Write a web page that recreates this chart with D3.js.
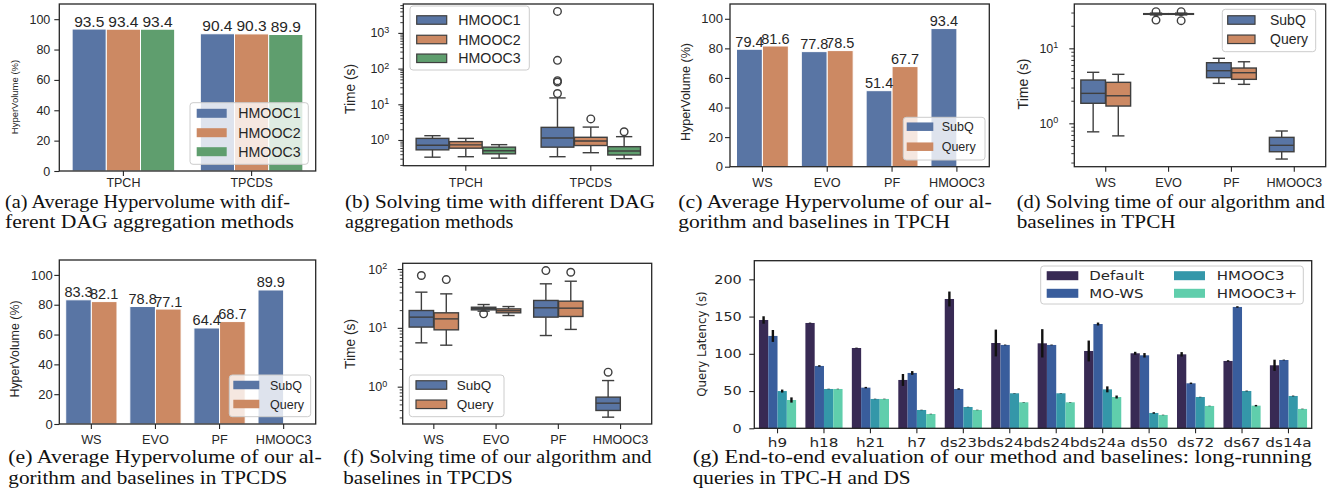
<!DOCTYPE html>
<html><head><meta charset="utf-8">
<script src="https://cdn.jsdelivr.net/npm/d3@7"></script>
<style>body{margin:0;background:#fff}svg{display:block}</style>
</head><body>
<svg id="fig" width="1344" height="495"></svg>
<script>
// ---------------- DATA ----------------
// (a) Average hypervolume, DAG aggregation methods
const aggCategories = ["TPCH", "TPCDS"];
const aggMethods = ["HMOOC1", "HMOOC2", "HMOOC3"];
const aggHV_HMOOC1 = [93.5, 90.4];
const aggHV_HMOOC2 = [93.4, 90.3];
const aggHV_HMOOC3 = [93.4, 89.9];

// (b) Solving time box stats [whiskerLow, q1, median, q3, whiskerHigh]
const aggTime_HMOOC1 = [[0.33, 0.53, 0.71, 1.11, 1.32], [0.34, 0.63, 1.14, 2.26, 15.1]];
const aggTime_HMOOC1_out = [[], [20, 42, 46, 170, 4000]];
const aggTime_HMOOC2 = [[0.34, 0.59, 0.73, 0.90, 1.11], [0.44, 0.70, 0.94, 1.19, 2.3]];
const aggTime_HMOOC2_out = [[], [3.9]];
const aggTime_HMOOC3 = [[0.31, 0.41, 0.50, 0.63, 0.74], [0.30, 0.38, 0.49, 0.65, 1.24]];
const aggTime_HMOOC3_out = [[], [1.7]];

// (c)/(e) hypervolume of algorithms
const algCategories = ["WS", "EVO", "PF", "HMOOC3"];
const algHues = ["SubQ", "Query"];
const tpchHV_SubQ = [79.4, 77.8, 51.4, 93.4];
const tpchHV_Query = [81.6, 78.5, 67.7, null];
const tpcdsHV_SubQ = [83.3, 78.8, 64.4, 89.9];
const tpcdsHV_Query = [82.1, 77.1, 68.7, null];

// (d) TPCH solving time box stats
const tpchTime_SubQ = [[0.77, 1.85, 2.51, 3.78, 4.79], [27.9, 28.4, 28.7, 29.0, 29.5], [3.41, 4.06, 5.03, 6.43, 7.36], [0.334, 0.418, 0.509, 0.65, 0.79]];
const tpchTime_SubQ_out = [[], [23.8, 30.8], [], []];
const tpchTime_Query = [[0.68, 1.70, 2.33, 3.52, 4.5], [27.9, 28.4, 28.7, 29.0, 29.5], [3.31, 3.86, 4.73, 5.46, 6.62], null];
const tpchTime_Query_out = [[], [23.4, 30.8], [], []];

// (f) TPCDS solving time box stats
const tpcdsTime_SubQ = [[5.56, 10.3, 15.2, 19.7, 40.4], [19.2, 20.2, 21.3, 22.4, 24.9], [7.4, 15.2, 21.9, 29.2, 56], [0.303, 0.394, 0.524, 0.664, 1.27]];
const tpcdsTime_SubQ_out = [[77.6], [17.3], [94], [1.76]];
const tpcdsTime_Query = [[5.07, 9.25, 14.2, 18.0, 37.8], [16.2, 18.0, 19.5, 21.0, 23.0], [9.4, 15.6, 21.6, 28.4, 62], null];
const tpcdsTime_Query_out = [[66], [], [88], []];

// (g) end-to-end latency
const e2eQueries = ["h9", "h18", "h21", "h7", "ds23b", "ds24b", "ds24b", "ds24a", "ds50", "ds72", "ds67", "ds14a"];
const e2eMethods = ["Default", "MO-WS", "HMOOC3", "HMOOC3+"];
const lat_Default = [145.4, 141.4, 107.8, 64.9, 173.6, 114.5, 114.1, 103.8, 100.7, 99.3, 90.4, 84.6];
const lat_Default_err = [5, 0.5, 0.5, 8, 10, 18, 19, 14, 2, 3, 1, 7.5];
const lat_MOWS = [124, 83.7, 54.6, 74.3, 52.8, 111.9, 111.9, 140, 98, 60.4, 162.9, 91.7];
const lat_MOWS_err = [8, 1, 1, 2.5, 1, 0.5, 0.5, 2, 3, 1, 1, 0.5];
const lat_HMOOC3 = [50, 52.8, 39.4, 24.6, 28.6, 47, 47, 52.3, 20.6, 42, 50.1, 43.4];
const lat_HMOOC3_err = [2, 0.3, 0.3, 0.3, 0.3, 0.3, 0.3, 4, 1, 0.3, 0.5, 0.5];
const lat_HMOOC3p = [38, 52.8, 39.4, 19.2, 24.6, 34.9, 34.9, 42, 17.9, 30, 30.4, 26];
const lat_HMOOC3p_err = [3.5, 0.3, 0.3, 0.3, 0.3, 0.3, 0.3, 2, 0.3, 0.3, 1, 0.3];

// tick values
const hvTicks = [0, 20, 40, 60, 80, 100];
const latTicks = [0, 50, 100, 150, 200];

// captions
const captions = {
  a: ["(a) Average Hypervolume with dif-", "ferent DAG aggregation methods"],
  b: ["(b) Solving time with different DAG", "aggregation methods"],
  c: ["(c) Average Hypervolume of our al-", "gorithm and baselines in TPCH"],
  d: ["(d) Solving time of our algorithm and", "baselines in TPCH"],
  e: ["(e) Average Hypervolume of our al-", "gorithm and baselines in TPCDS"],
  f: ["(f) Solving time of our algorithm and", "baselines in TPCDS"],
  g: ["(g) End-to-end evaluation of our method and baselines: long-running", "queries in TPC-H and DS"]
};

// ---------------- STYLE ----------------
const SANS = "'Liberation Sans', Arial, Helvetica, sans-serif";
const DEJA = "'DejaVu Sans', sans-serif";
const SERIF = "'Liberation Serif', 'Times New Roman', serif";
const INK = "#262626";
const BOXLINE = "#3f3f3f";
const C_BLUE = "#5975a4", C_ORANGE = "#cc8963", C_GREEN = "#5f9e6e";
const MAKO = ["#382a54", "#395d9c", "#3497a9", "#60ceac"];

const svg = d3.select("#fig");

function frame(g, L, R, T, B, color) {
  g.append("rect").attr("x", L).attr("y", T).attr("width", R - L).attr("height", B - T)
    .attr("fill", "none").attr("stroke", color || INK).attr("stroke-width", 1.3);
}

function ylabel(g, text, x, y, fs, font) {
  g.append("text").attr("transform", `translate(${x},${y}) rotate(-90)`)
    .attr("text-anchor", "middle").attr("dy", "0.35em")
    .attr("font-family", font || SANS).attr("font-size", fs).attr("fill", INK).text(text);
}

function xAxis(g, x, B, labels, fs, baseline, font, stretch) {
  const ax = g.append("g").attr("transform", `translate(0,${B})`)
    .call(d3.axisBottom(x).tickSize(5).tickFormat(i => labels[i]));
  ax.select(".domain").remove();
  ax.selectAll("line").attr("stroke", INK).attr("stroke-width", 1.1);
  ax.selectAll("text").attr("font-family", font || SANS).attr("font-size", fs).attr("fill", INK)
    .attr("y", baseline - B).attr("dy", 0);
  if (stretch) ax.selectAll("text").attr("transform", `scale(${stretch},1)`);
  return ax;
}

function yAxisLinear(g, y, L, ticks, fs, gap, font, stretch) {
  const ax = g.append("g").attr("transform", `translate(${L},0)`)
    .call(d3.axisLeft(y).tickValues(ticks).tickSize(5).tickFormat(d3.format("d")));
  ax.select(".domain").remove();
  ax.selectAll("line").attr("stroke", INK).attr("stroke-width", 1.1);
  const t = ax.selectAll("text").attr("font-family", font || SANS).attr("font-size", fs).attr("fill", INK);
  if (stretch) t.attr("x", -gap / stretch).attr("transform", `scale(${stretch},1)`);
  else t.attr("x", -gap);
  return ax;
}

function yAxisLog(g, y, L, majors, fs, gap) {
  const [lo, hi] = y.domain();
  const minors = [];
  for (let e = Math.floor(Math.log10(lo)); e <= Math.ceil(Math.log10(hi)); e++)
    for (let m = 2; m <= 9; m++) { const v = m * Math.pow(10, e); if (v >= lo && v <= hi) minors.push(v); }
  const mx = g.append("g").attr("transform", `translate(${L},0)`)
    .call(d3.axisLeft(y).tickValues(minors).tickSize(3).tickFormat(""));
  mx.select(".domain").remove();
  mx.selectAll("line").attr("stroke", INK).attr("stroke-width", 0.9);
  const ax = g.append("g").attr("transform", `translate(${L},0)`)
    .call(d3.axisLeft(y).tickValues(majors).tickSize(5).tickFormat(() => "10"));
  ax.select(".domain").remove();
  ax.selectAll("line").attr("stroke", INK).attr("stroke-width", 1.1);
  ax.selectAll("text").attr("font-family", SANS).attr("font-size", fs).attr("fill", INK).attr("x", -gap)
    .each(function (d) {
      d3.select(this).append("tspan").attr("dy", "-0.5em").attr("font-size", fs * 0.72)
        .text(Math.round(Math.log10(d)));
    });
}

function legend(g, o) {
  g.append("rect").attr("x", o.box[0]).attr("y", o.box[1]).attr("width", o.box[2] - o.box[0])
    .attr("height", o.box[3] - o.box[1]).attr("rx", 3).attr("fill", "white").attr("fill-opacity", 0.8)
    .attr("stroke", "#cccccc").attr("stroke-width", 1);
  const nr = o.rows.length;
  o.items.forEach((it, i) => {
    const col = o.cols[Math.floor(i / nr)], cy = o.rows[i % nr];
    g.append("rect").attr("x", col.px0).attr("y", cy - o.ph / 2).attr("width", col.px1 - col.px0)
      .attr("height", o.ph).attr("fill", it[1])
      .attr("stroke", o.pstroke || "none").attr("stroke-width", 1.2);
    const t = g.append("text").attr("font-family", o.font || SANS).attr("font-size", o.fs)
      .attr("fill", INK).attr("dy", "0.36em").text(it[0]);
    if (o.stretch) t.attr("transform", `translate(${col.tx},${cy}) scale(${o.stretch},1)`);
    else t.attr("x", col.tx).attr("y", cy);
  });
}

function caption(g, lines, x, y0, w1, w2) {
  [[lines[0], y0, w1], [lines[1], y0 + 20.5, w2]].forEach(([t, y, w]) => {
    g.append("text").attr("x", x).attr("y", y).attr("font-family", SERIF).attr("font-size", 18.5)
      .attr("fill", "#111").attr("textLength", w).attr("lengthAdjust", "spacingAndGlyphs").text(t);
  });
}

// ---------- bar panel (a, c, e) ----------
function barPanel(o) {
  const g = svg.append("g");
  const x = d3.scaleBand().domain(d3.range(o.cats.length)).range([o.L, o.R]).paddingInner(0.2).paddingOuter(0.1);
  const xs = d3.scaleBand().domain(o.hues).range([0, x.bandwidth()]);
  const y = d3.scaleLinear().domain([0, 110]).range([o.B, o.T]);
  const rows = [];
  o.series.forEach((vals, h) => vals.forEach((v, i) => { if (v != null) rows.push({ i, h, v }); }));
  g.selectAll("rect.bar").data(rows).join("rect").attr("class", "bar")
    .attr("x", d => x(d.i) + xs(o.hues[d.h])).attr("width", xs.bandwidth())
    .attr("y", d => y(d.v)).attr("height", d => y(0) - y(d.v))
    .attr("fill", d => o.colors[d.h]).attr("stroke", "white").attr("stroke-width", 1);
  g.selectAll("text.val").data(rows).join("text").attr("class", "val")
    .attr("x", d => x(d.i) + xs(o.hues[d.h]) + xs.bandwidth() / 2).attr("y", d => y(d.v) - 2.5)
    .attr("text-anchor", "middle").attr("font-family", SANS).attr("font-size", o.valFs).attr("fill", INK)
    .text(d => d.v.toFixed(1));
  legend(g, o.legend);
  frame(g, o.L, o.R, o.T, o.B);
  yAxisLinear(g, y, o.L, hvTicks, o.tickFs, o.ygap);
  xAxis(g, x, o.B, o.cats, o.xFs, o.xBase);
  ylabel(g, "HyperVolume (%)", o.ylx, o.yly, o.ylFs);
}

// ---------- box panel (b, d, f) ----------
function boxPanel(o) {
  const g = svg.append("g");
  const x = d3.scaleBand().domain(d3.range(o.cats.length)).range([o.L, o.R]).paddingInner(0.2).paddingOuter(0.1);
  const xs = d3.scaleBand().domain(o.hues).range([0, x.bandwidth()]);
  const y = d3.scaleLog().domain(o.ydom).range([o.B, o.T]);
  const w = xs.bandwidth() * 0.98;
  const boxes = [];
  o.stats.forEach((arr, h) => arr.forEach((s, i) => {
    if (s) boxes.push({ cx: x(i) + xs(o.hues[h]) + xs.bandwidth() / 2, s, out: o.outs[h][i] || [], color: o.colors[h] });
  }));
  const bg = g.selectAll("g.box").data(boxes).join("g").attr("class", "box");
  const ln = (sel) => sel.attr("stroke", BOXLINE).attr("stroke-width", 1.4);
  bg.append("line").call(ln).attr("x1", d => d.cx).attr("x2", d => d.cx).attr("y1", d => y(d.s[1])).attr("y2", d => y(d.s[0]));
  bg.append("line").call(ln).attr("x1", d => d.cx).attr("x2", d => d.cx).attr("y1", d => y(d.s[3])).attr("y2", d => y(d.s[4]));
  bg.append("line").call(ln).attr("x1", d => d.cx - w / 4).attr("x2", d => d.cx + w / 4).attr("y1", d => y(d.s[0])).attr("y2", d => y(d.s[0]));
  bg.append("line").call(ln).attr("x1", d => d.cx - w / 4).attr("x2", d => d.cx + w / 4).attr("y1", d => y(d.s[4])).attr("y2", d => y(d.s[4]));
  bg.append("rect").call(ln).attr("x", d => d.cx - w / 2).attr("width", w)
    .attr("y", d => y(d.s[3])).attr("height", d => y(d.s[1]) - y(d.s[3])).attr("fill", d => d.color);
  bg.append("line").call(ln).attr("x1", d => d.cx - w / 2).attr("x2", d => d.cx + w / 2).attr("y1", d => y(d.s[2])).attr("y2", d => y(d.s[2]));
  bg.selectAll("circle").data(d => d.out.map(v => ({ v, cx: d.cx }))).join("circle")
    .attr("cx", d => d.cx).attr("cy", d => y(d.v)).attr("r", 3.8)
    .attr("fill", "none").attr("stroke", BOXLINE).attr("stroke-width", 1.4);
  legend(g, o.legend);
  frame(g, o.L, o.R, o.T, o.B);
  yAxisLog(g, y, o.L, o.majors, 12.5, o.ygap);
  xAxis(g, x, o.B, o.cats, o.xFs, o.xBase);
  ylabel(g, "Time (s)", o.ylx, o.yly, o.ylFs);
}

// ---------- panels ----------
barPanel({
  L: 59.3, R: 315.7, T: 4, B: 171, cats: aggCategories, hues: aggMethods,
  series: [aggHV_HMOOC1, aggHV_HMOOC2, aggHV_HMOOC3], colors: [C_BLUE, C_ORANGE, C_GREEN],
  valFs: 15.5, tickFs: 12.5, ygap: 9, xFs: 12.5, xBase: 187, ylx: 15, yly: 97, ylFs: 9.5,
  legend: { box: [190, 102.7, 308.3, 164.3], items: aggMethods.map((m, i) => [m, [C_BLUE, C_ORANGE, C_GREEN][i]]),
    cols: [{ px0: 196.7, px1: 226.7, tx: 238.3 }], rows: [113.3, 132.7, 151.7], ph: 9, fs: 14.2 }
});

boxPanel({
  L: 403.3, R: 653.3, T: 4, B: 165.7, cats: aggCategories, hues: aggMethods,
  stats: [aggTime_HMOOC1, aggTime_HMOOC2, aggTime_HMOOC3], outs: [aggTime_HMOOC1_out, aggTime_HMOOC2_out, aggTime_HMOOC3_out],
  colors: [C_BLUE, C_ORANGE, C_GREEN], ydom: [0.1905, 6450], majors: [1, 10, 100, 1000], ygap: 14,
  xFs: 12.5, xBase: 187, ylx: 350, yly: 89, ylFs: 13.8,
  legend: { box: [410, 6, 529.3, 70], items: aggMethods.map((m, i) => [m, [C_BLUE, C_ORANGE, C_GREEN][i]]),
    cols: [{ px0: 416.7, px1: 446.7, tx: 458.3 }], rows: [20, 39.5, 58.3], ph: 8.5, fs: 14.2, pstroke: BOXLINE }
});

barPanel({
  L: 730, R: 989.3, T: 4, B: 166.7, cats: algCategories, hues: algHues,
  series: [tpchHV_SubQ, tpchHV_Query], colors: [C_BLUE, C_ORANGE],
  valFs: 14.5, tickFs: 13, ygap: 7, xFs: 12.7, xBase: 187, ylx: 686, yly: 92, ylFs: 12.5,
  legend: { box: [903.3, 117.3, 985, 160], items: [["SubQ", C_BLUE], ["Query", C_ORANGE]],
    cols: [{ px0: 906.7, px1: 933.3, tx: 941.7 }], rows: [126.7, 146.7], ph: 8.5, fs: 12.5 }
});

boxPanel({
  L: 1074.3, R: 1325.7, T: 4, B: 166.7, cats: algCategories, hues: algHues,
  stats: [tpchTime_SubQ, tpchTime_Query], outs: [tpchTime_SubQ_out, tpchTime_Query_out],
  colors: [C_BLUE, C_ORANGE], ydom: [0.264, 39.0], majors: [1, 10], ygap: 16,
  xFs: 12.7, xBase: 187, ylx: 1023.3, yly: 84, ylFs: 14,
  legend: { box: [1222.3, 9.3, 1315.7, 51.7], items: [["SubQ", C_BLUE], ["Query", C_ORANGE]],
    cols: [{ px0: 1227.7, px1: 1255, tx: 1270 }], rows: [20, 39.3], ph: 8.5, fs: 14, pstroke: BOXLINE }
});

barPanel({
  L: 59.3, R: 315.7, T: 260, B: 424, cats: algCategories, hues: algHues,
  series: [tpcdsHV_SubQ, tpcdsHV_Query], colors: [C_BLUE, C_ORANGE],
  valFs: 14.5, tickFs: 13, ygap: 6.5, xFs: 12.7, xBase: 444.3, ylx: 15, yly: 349, ylFs: 12.4,
  legend: { box: [229.3, 375, 310.7, 416.7], items: [["SubQ", C_BLUE], ["Query", C_ORANGE]],
    cols: [{ px0: 233.3, px1: 259.3, tx: 270 }], rows: [385, 404], ph: 8.5, fs: 12.5 }
});

boxPanel({
  L: 402.7, R: 651.7, T: 263.3, B: 424, cats: algCategories, hues: algHues,
  stats: [tpcdsTime_SubQ, tpcdsTime_Query], outs: [tpcdsTime_SubQ_out, tpcdsTime_Query_out],
  colors: [C_BLUE, C_ORANGE], ydom: [0.232, 125], majors: [1, 10, 100], ygap: 15.5,
  xFs: 12.7, xBase: 444.3, ylx: 350, yly: 344, ylFs: 13.8,
  legend: { box: [409.3, 375, 504, 416.7], items: [["SubQ", C_BLUE], ["Query", C_ORANGE]],
    cols: [{ px0: 416, px1: 446.7, tx: 456.7 }], rows: [385, 404.3], ph: 8.5, fs: 13.5, pstroke: BOXLINE }
});

// ---------- (g) grouped bars with error bars ----------
(function () {
  const L = 754.3, R = 1311.7, T = 260.7, B = 428.3, ST = 1.22;
  const g = svg.append("g");
  const x = d3.scaleBand().domain(d3.range(e2eQueries.length)).range([L, R]).paddingInner(0.2).paddingOuter(0.1);
  const xs = d3.scaleBand().domain(e2eMethods).range([0, x.bandwidth()]);
  const y = d3.scaleLinear().domain([0, 225]).range([B, T]);
  const series = [[lat_Default, lat_Default_err], [lat_MOWS, lat_MOWS_err], [lat_HMOOC3, lat_HMOOC3_err], [lat_HMOOC3p, lat_HMOOC3p_err]];
  const rows = [];
  series.forEach(([vals, errs], h) => vals.forEach((v, i) => rows.push({ i, h, v, e: errs[i] })));
  g.selectAll("rect.bar").data(rows).join("rect").attr("class", "bar")
    .attr("x", d => x(d.i) + xs(e2eMethods[d.h])).attr("width", xs.bandwidth())
    .attr("y", d => y(d.v)).attr("height", d => y(0) - y(d.v)).attr("fill", d => MAKO[d.h]);
  g.selectAll("line.err").data(rows).join("line").attr("class", "err")
    .attr("x1", d => x(d.i) + xs(e2eMethods[d.h]) + xs.bandwidth() / 2)
    .attr("x2", d => x(d.i) + xs(e2eMethods[d.h]) + xs.bandwidth() / 2)
    .attr("y1", d => y(d.v - d.e)).attr("y2", d => y(d.v + d.e))
    .attr("stroke", "#111").attr("stroke-width", 2.4);
  legend(g, {
    box: [1040.7, 266, 1303.3, 304], items: e2eMethods.map((m, i) => [m, MAKO[i]]),
    cols: [{ px0: 1046.7, px1: 1078.3, tx: 1089.3 }, { px0: 1174, px1: 1205, tx: 1216.7 }],
    rows: [275.7, 293.3], ph: 9, fs: 12.5, font: DEJA, stretch: 1.2
  });
  frame(g, L, R, T, B, "#222");
  yAxisLinear(g, y, L, latTicks, 12, 12.6, DEJA, 1.2);
  xAxis(g, x, B, e2eQueries, 12.5, 446.7, DEJA, ST);
  ylabel(g, "Query Latency (s)", 701.7, 344, 11.8, DEJA);
})();

// ---------- captions ----------
const cg = svg.append("g");
caption(cg, captions.a, 5, 207.5, 285, 289);
caption(cg, captions.b, 345, 207.5, 310, 168.3);
caption(cg, captions.c, 678.3, 207.5, 313.4, 271.7);
caption(cg, captions.d, 1016.7, 207.5, 308.3, 159);
caption(cg, captions.e, 8.3, 463.3, 313.4, 279);
caption(cg, captions.f, 343.3, 463.3, 308.4, 169.4);
caption(cg, captions.g, 692.7, 463.3, 619, 218);
</script>
</body></html>
